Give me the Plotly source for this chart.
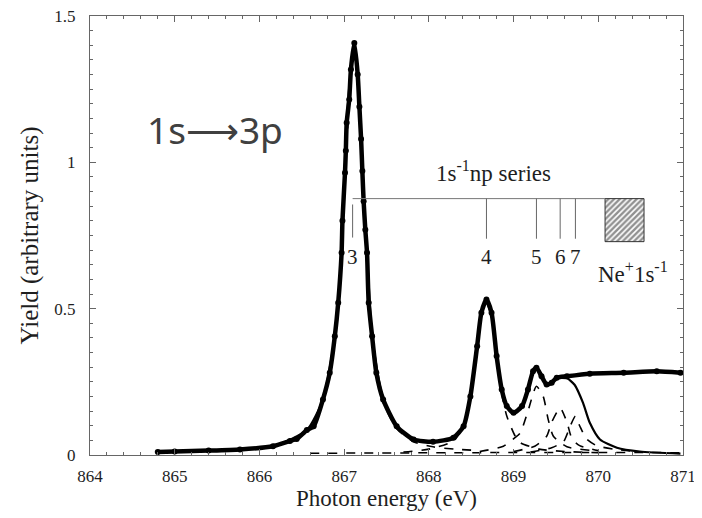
import plotly.graph_objects as go

# measured yield (dots)
energy = [864.80, 865.00, 865.40, 865.77, 866.16, 866.36, 866.44, 866.56, 866.64, 866.75,
          866.83, 866.89, 866.93, 866.97, 866.98, 867.01, 867.02, 867.03, 867.06, 867.08,
          867.12, 867.16, 867.18, 867.20, 867.215, 867.23, 867.25, 867.27, 867.29, 867.33,
          867.38, 867.46, 867.62, 867.82, 868.05, 868.29, 868.41, 868.49, 868.57, 868.62,
          868.68, 868.74, 868.80, 868.86, 868.92, 869.00, 869.10, 869.17, 869.23, 869.27,
          869.33, 869.39, 869.45, 869.51, 869.63, 869.90, 870.30, 870.69, 870.97]
yield_meas = [0.010, 0.012, 0.015, 0.019, 0.030, 0.048, 0.055, 0.085, 0.098, 0.190,
              0.281, 0.406, 0.520, 0.691, 0.800, 0.964, 1.040, 1.135, 1.215, 1.317,
              1.408, 1.300, 1.190, 1.080, 0.970, 0.867, 0.770, 0.691, 0.520, 0.406,
              0.281, 0.190, 0.098, 0.053, 0.045, 0.059, 0.098, 0.200, 0.372, 0.486,
              0.531, 0.486, 0.338, 0.224, 0.167, 0.144, 0.167, 0.224, 0.286, 0.298,
              0.269, 0.241, 0.247, 0.264, 0.269, 0.278, 0.281, 0.286, 0.281]

# total fit (solid)
fit_e = [864.80, 865.40, 866.16, 866.56, 866.75, 866.89, 866.97, 867.03, 867.08, 867.12,
         867.18, 867.23, 867.27, 867.33, 867.46, 867.62, 867.82, 868.05, 868.29, 868.41,
         868.49, 868.57, 868.62, 868.68, 868.74, 868.80, 868.86, 868.92, 869.00, 869.10,
         869.17, 869.23, 869.27, 869.33, 869.39, 869.45, 869.51, 869.63, 869.72, 869.82,
         869.90, 870.02, 870.22, 870.49, 870.97]
fit_y = [0.010, 0.015, 0.030, 0.085, 0.190, 0.406, 0.691, 1.135, 1.317, 1.400,
         1.190, 0.867, 0.691, 0.406, 0.190, 0.098, 0.053, 0.045, 0.059, 0.098,
         0.200, 0.372, 0.486, 0.528, 0.486, 0.338, 0.224, 0.167, 0.144, 0.167,
         0.224, 0.286, 0.296, 0.269, 0.241, 0.247, 0.262, 0.262, 0.240, 0.178,
         0.110, 0.053, 0.025, 0.012, 0.005]

# fitted components (dashed)
bg_e = [866.60, 867.50, 868.50, 869.50, 871.00]
bg_y = [0.006, 0.007, 0.008, 0.009, 0.008]

p3_e = [866.60, 866.75, 866.83, 866.89, 866.93, 866.97, 867.01, 867.06, 867.12, 867.18,
        867.21, 867.25, 867.29, 867.33, 867.38, 867.46, 867.62, 867.82, 868.05, 868.30, 868.60]
p3_y = [0.085, 0.180, 0.275, 0.400, 0.510, 0.680, 0.950, 1.200, 1.395, 1.200,
        0.970, 0.770, 0.520, 0.400, 0.275, 0.180, 0.090, 0.045, 0.028, 0.020, 0.015]

p4_e = [867.70, 868.00, 868.30, 868.45, 868.55, 868.62, 868.68, 868.74, 868.80, 868.86,
        868.92, 869.02, 869.08, 869.30, 869.60, 870.00]
p4_y = [0.010, 0.020, 0.050, 0.130, 0.330, 0.480, 0.520, 0.470, 0.330, 0.210,
        0.133, 0.064, 0.042, 0.020, 0.012, 0.008]

p5_e = [868.60, 868.88, 869.02, 869.08, 869.17, 869.27, 869.35, 869.41, 869.47, 869.63, 869.90]
p5_y = [0.012, 0.030, 0.060, 0.076, 0.150, 0.235, 0.200, 0.120, 0.064, 0.028, 0.016]

p6_e = [869.00, 869.25, 869.39, 869.45, 869.55, 869.63, 869.69, 869.78, 870.00]
p6_y = [0.012, 0.030, 0.064, 0.112, 0.161, 0.112, 0.055, 0.032, 0.015]

p7_e = [869.20, 869.45, 869.59, 869.67, 869.73, 869.78, 869.86, 869.98, 870.18, 870.50]
p7_y = [0.010, 0.025, 0.046, 0.100, 0.133, 0.100, 0.055, 0.032, 0.020, 0.010]

# Rydberg series markers
series_n = ['3', '4', '5', '6', '7']
series_e = [867.10, 868.68, 869.27, 869.55, 869.73]
edge_e = [870.08, 870.54]

serif = 'Liberation Serif'
ink = '#1e1e1e'
fig = go.Figure()

fig.add_trace(go.Scatter(x=bg_e, y=bg_y, mode='lines', line=dict(color='black', width=1.5, dash='dash')))
for xe, ye in [(p3_e, p3_y), (p4_e, p4_y), (p5_e, p5_y), (p6_e, p6_y), (p7_e, p7_y)]:
    fig.add_trace(go.Scatter(x=xe, y=ye, mode='lines', line=dict(color='black', width=1.6, dash='dash', shape='spline', smoothing=0.6)))

fig.add_trace(go.Scatter(x=fit_e, y=fit_y, mode='lines', line=dict(color='black', width=2.2, shape='spline', smoothing=0.6)))
fig.add_trace(go.Scatter(x=energy, y=yield_meas, mode='lines+markers', line=dict(color='black', width=4.5, shape='spline', smoothing=0.6),
                         marker=dict(color='black', size=6)))

# hatched box for the ionisation threshold
fig.add_trace(go.Scatter(x=[edge_e[0], edge_e[1], edge_e[1], edge_e[0], edge_e[0]], y=[0.729, 0.729, 0.876, 0.876, 0.729],
                         mode='lines', fill='toself', fillcolor='white', line=dict(color='#333', width=1),
                         fillpattern=dict(shape='/', fgcolor='#222', bgcolor='white', size=4, solidity=0.6)))

shapes = [dict(type='line', x0=series_e[0], x1=edge_e[0], y0=0.876, y1=0.876, line=dict(color='#777', width=1))]
for i, e in enumerate(series_e):
    y0 = 0.743 if i == 0 else 0.739
    y1 = 0.856 if i == 0 else 0.876
    shapes.append(dict(type='line', x0=e, x1=e, y0=y0, y1=y1, line=dict(color='#666', width=1)))

annotations = [dict(x=n_e, y=0.678, text=n, showarrow=False, font=dict(family=serif, size=21, color=ink))
               for n, n_e in zip(series_n, series_e)]
annotations += [
    dict(x=868.76, y=0.968, text='1s<sup>-1</sup>np series', showarrow=False, font=dict(family=serif, size=23, color=ink)),
    dict(x=870.41, y=0.623, text='Ne<sup>+</sup>1s<sup>-1</sup>', showarrow=False, font=dict(family=serif, size=23, color=ink)),
    dict(x=865.48, y=1.112, text='1s<span style="font-family:DejaVu Sans">⟶</span>3p', showarrow=False,
         font=dict(family='Noto Sans', size=37, color='#404040')),
]

axis_common = dict(showgrid=False, zeroline=False, showline=True, linecolor='#666', linewidth=1,
                   mirror='ticks', ticks='inside', ticklen=6, tickcolor='#666', ticklabeloverflow='allow',
                   tickfont=dict(family=serif, size=17, color=ink))
fig.update_xaxes(range=[864, 871], dtick=1, tick0=864, ticklabelstandoff=6,
                 minor=dict(dtick=0.2, ticks='inside', ticklen=3, tickcolor='#666'),
                 title=dict(text='Photon energy (eV)', font=dict(family=serif, size=23, color=ink), standoff=2),
                 **axis_common)
fig.update_yaxes(range=[0, 1.5], tickvals=[0, 0.5, 1, 1.5], ticktext=['0', '0.5', '1', '1.5'], ticklabelstandoff=10,
                 minor=dict(dtick=0.05, ticks='inside', ticklen=3, tickcolor='#666'),
                 title=dict(text='Yield (arbitrary units)', font=dict(family=serif, size=25, color=ink), standoff=8),
                 **axis_common)
# the page body adds an 8px margin, so the figure is 8px smaller than the window
fig.update_layout(width=694, height=510, showlegend=False, plot_bgcolor='white', paper_bgcolor='white',
                  margin=dict(l=82, r=19, t=8, b=63, autoexpand=False), shapes=shapes, annotations=annotations)
fig.write_html("out.html")
